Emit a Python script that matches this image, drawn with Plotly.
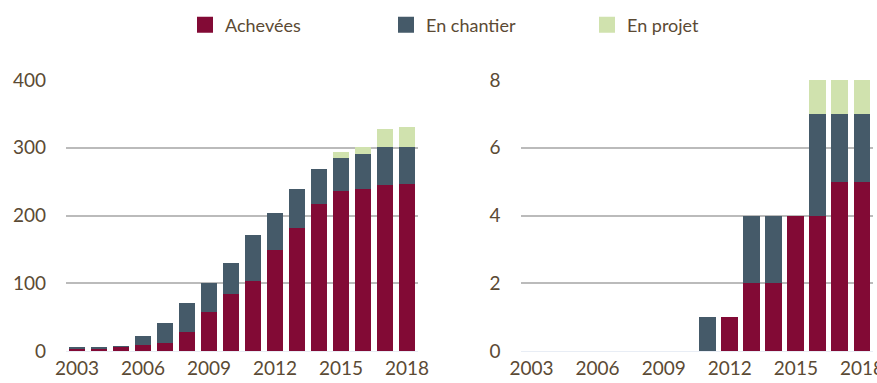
import plotly.graph_objects as go

# Years shared by both panels
years = list(range(2003, 2019))

# Left panel: number of operations by status
acheves_left = [3, 3, 6, 9, 12, 28, 58, 84, 103, 149, 182, 217, 236, 239, 245, 246]
chantier_left = [3, 3, 1, 13, 29, 43, 42, 46, 68, 55, 57, 52, 49, 52, 56, 55]
projet_left = [0, 0, 0, 0, 0, 0, 0, 0, 0, 0, 0, 0, 9, 10, 27, 30]

# Right panel
acheves_right = [0, 0, 0, 0, 0, 0, 0, 0, 0, 1, 2, 2, 4, 4, 5, 5]
chantier_right = [0, 0, 0, 0, 0, 0, 0, 0, 1, 0, 2, 2, 0, 3, 2, 2]
projet_right = [0, 0, 0, 0, 0, 0, 0, 0, 0, 0, 0, 0, 0, 1, 1, 1]

series_names = ["Achevées", "En chantier", "En projet"]
colors = ["#820A35", "#455A69", "#D0E2AE"]

left_ticks = [0, 100, 200, 300, 400]
right_ticks = [0, 2, 4, 6, 8]
year_ticks = [2003, 2006, 2009, 2012, 2015, 2018]

text_color = "#5B4A34"
font_family = "Lato, 'Open Sans', sans-serif"

fig = go.Figure()

left_data = [acheves_left, chantier_left, projet_left]
right_data = [acheves_right, chantier_right, projet_right]

for name, color, vals in zip(series_names, colors, left_data):
    fig.add_trace(go.Bar(x=years, y=vals, name=name, marker_color=color,
                         marker_line_width=0, showlegend=False,
                         xaxis="x", yaxis="y"))
for name, color, vals in zip(series_names, colors, right_data):
    fig.add_trace(go.Bar(x=years, y=vals, name=name, marker_color=color,
                         marker_line_width=0, showlegend=False,
                         xaxis="x2", yaxis="y2"))

# Legend entries with larger square swatches
for name, color in zip(series_names, colors):
    fig.add_trace(go.Scatter(x=[None], y=[None], mode="markers", name=name,
                             marker=dict(symbol="square", size=16, color=color),
                             showlegend=True, xaxis="x", yaxis="y"))

W, H = 877, 383
tick_font = dict(size=19, color=text_color, family=font_family)
common_x = dict(
    tickmode="array", tickvals=year_ticks, range=[2002.5, 2018.5],
    showgrid=False, zeroline=False, showline=True, linecolor="#E8EDF5",
    linewidth=1, ticks="", tickfont=tick_font, automargin=False,
    ticklabeloverflow="allow", fixedrange=True,
)
common_y = dict(
    showgrid=True, gridcolor="#BBBBBB", gridwidth=1.5, zeroline=False,
    ticks="", tickfont=tick_font, automargin=False,
    ticklabelstandoff=19, fixedrange=True,
)

fig.update_layout(
    width=W, height=H,
    margin=dict(l=0, r=0, t=80, b=32),
    barmode="stack", bargap=0.23,
    paper_bgcolor="white", plot_bgcolor="white",
    font=dict(family=font_family, color=text_color, size=18),
    xaxis=dict(domain=[66 / W, 418 / W], anchor="y", **common_x),
    yaxis=dict(domain=[0, 1], anchor="x", range=[0, 400], tickvals=left_ticks, **common_y),
    xaxis2=dict(domain=[520.5 / W, 873 / W], anchor="y2", **common_x),
    yaxis2=dict(domain=[0, 1], anchor="x2", range=[0, 8], tickvals=right_ticks, **common_y),
    legend=dict(orientation="h", traceorder="normal", x=185 / W, xanchor="left",
                yref="container", y=1 - 25 / H, yanchor="middle",
                entrywidth=156, entrywidthmode="pixels",
                font=dict(size=18, color=text_color, family=font_family),
                bgcolor="rgba(0,0,0,0)"),
)

fig.write_html("out.html")
